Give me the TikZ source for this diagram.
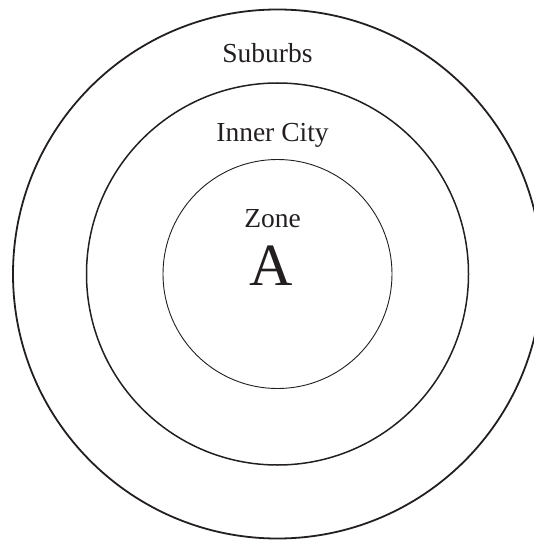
\documentclass[tikz,border=0pt]{standalone}
\usepackage{fontspec}
\setmainfont{Liberation Serif}
\usetikzlibrary{positioning}
\definecolor{ink}{RGB}{35,31,32}

\begin{document}
\begin{tikzpicture}[x=1pt,y=1pt,
  ring/.style={draw=ink, circle, inner sep=0pt},
  zonelabel/.style={anchor=base, text=ink, inner sep=0pt, font=\fontsize{27.5}{33}\selectfont}]
  \useasboundingbox (0,0) rectangle (533,-540);

  % rings
  \node[ring, line width=1.8pt, minimum size=529pt] (suburbs) at (277.5,-274) {};
  \node[ring, line width=1.5pt, minimum size=382pt] (innercity) at (277.5,-274) {};
  \node[ring, line width=0.9pt, minimum size=229pt] (zonea) at (277.5,-274) {};

  % labels
  \node[zonelabel] (suburbslbl) at (267.5,-63) {Suburbs};
  \node[zonelabel] (innercitylbl) at (272.5,-142) {Inner City};
  \node[zonelabel] (zonelbl) at (272.5,-227) {Zone};
  \node[zonelabel, font=\fontsize{60}{66}\selectfont] (zoneletter) at (271,-285) {A};
\end{tikzpicture}
\end{document}
